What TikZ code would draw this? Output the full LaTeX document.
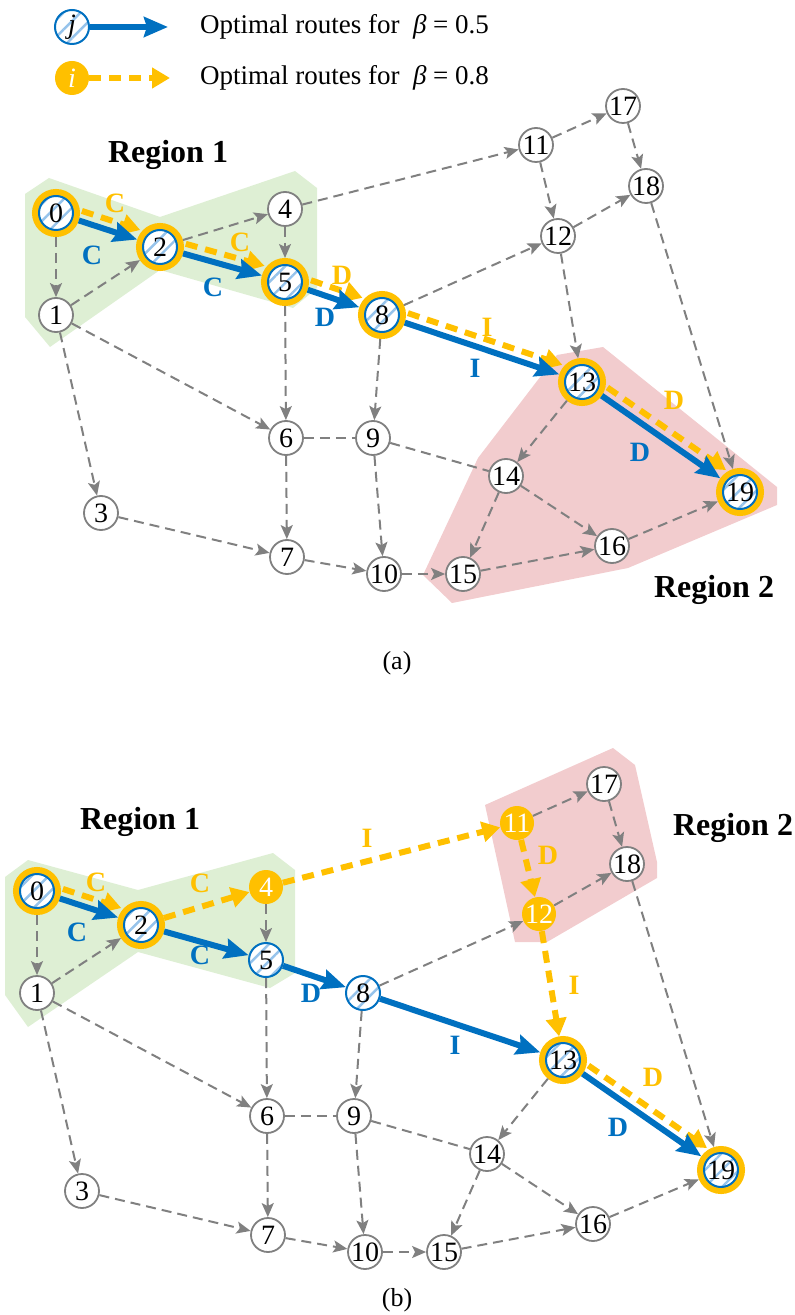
\documentclass[tikz,border=0pt]{standalone}
\usepackage{fontspec}
\setmainfont{Liberation Serif}
\usetikzlibrary{arrows.meta,calc,patterns.meta}

\definecolor{routeblue}{RGB}{0,112,192}
\definecolor{routegold}{RGB}{255,192,0}
\definecolor{hatchblue}{RGB}{150,195,235}
\definecolor{edgegray}{RGB}{128,128,128}
\definecolor{regiongreen}{RGB}{222,239,212}
\definecolor{regionred}{RGB}{242,204,206}

\tikzset{
  plainnode/.style={circle, draw=edgegray, line width=0.9pt, fill=white, minimum size=17pt, inner sep=0pt, font=\fontsize{14}{15}\selectfont},
  hatchnode/.style={circle, draw=routeblue, line width=1pt, preaction={fill=white}, pattern={Lines[angle=45,distance=6pt,line width=1.2pt]}, pattern color=hatchblue, minimum size=17pt, inner sep=0pt, font=\fontsize{14}{15}\selectfont},
  ringnode/.style={preaction={draw=routegold, line width=7pt}, hatchnode, outer sep=3.5pt},
  goldnode/.style={circle, fill=routegold, minimum size=17pt, inner sep=0pt, text=white, font=\fontsize{14}{15}\selectfont},
  grayedge/.style={draw=edgegray, line width=1pt, dash pattern=on 5pt off 3pt, -{Stealth[length=7pt,width=6pt,inset=1.5pt]}},
  grayline/.style={grayedge, -},
  blueroute/.style={draw=routeblue, line width=3pt, -{Stealth[length=12pt,width=10pt,inset=1.5pt]}},
  goldroute/.style={draw=routegold, line width=3pt, dash pattern=on 6pt off 4pt, -{Triangle[length=9pt,width=10pt]}},
  bluelabel/.style={text=routeblue, font=\bfseries\fontsize{14}{15}\selectfont},
  goldlabel/.style={text=routegold, font=\bfseries\fontsize{14}{15}\selectfont},
  regionlabel/.style={font=\bfseries\fontsize{16}{18}\selectfont},
}

\begin{document}
\begin{tikzpicture}[x=0.5pt, y=-0.5pt]
    \useasboundingbox (0,0) rectangle (795,1315);

    % regions
    \fill[regiongreen] (25,194) -- (49,178) -- (160,217) -- (295,171) -- (317,188) -- (317,288) -- (293,308) -- (160,270) -- (50,347) -- (25,317) -- cycle;
    \fill[regionred] (423,575) -- (478,458) -- (557,355) -- (603,347) -- (777,487) -- (777,505) -- (628,568) -- (452,603) -- cycle;
    \fill[regiongreen] (5,877) -- (28,860) -- (138,890) -- (273,853) -- (295,870) -- (295,973) -- (270,988) -- (138,952) -- (28,1027) -- (5,995) -- cycle;
    \fill[regionred] (485,805) -- (613,748) -- (635,765) -- (657,862) -- (657,878) -- (547,942) -- (515,942) -- cycle;

    % legend
    \node[hatchnode, font=\itshape\fontsize{14}{15}\selectfont] (legj) at (72,27) {j};
    \coordinate (legjend) at (168,27);
    \draw[blueroute] (legj) -- (legjend);
    \node[goldnode, font=\itshape\fontsize{14}{15}\selectfont] (legi) at (72,78) {i};
    \coordinate (legiend) at (170,78);
    \draw[goldroute] (legi) -- (legiend);
    \node[anchor=west, font=\fontsize{13.5}{15}\selectfont] (legtxtj) at (193,27) {Optimal routes for\ \ \textit{β} = 0.5};
    \node[anchor=west, font=\fontsize{13.5}{15}\selectfont] (legtxti) at (193,78) {Optimal routes for\ \ \textit{β} = 0.8};

    % (a)
    \foreach \n/\x/\y/\st in {0/56/213/ringnode, 1/56/315/plainnode, 2/160/247/ringnode, 3/101/513/plainnode,
        4/285/209/plainnode, 5/285/282/ringnode, 6/286/438/plainnode, 7/287/557/plainnode, 8/382/315/ringnode,
        9/373/438/plainnode, 10/384/574/plainnode, 11/536/145/plainnode, 12/558/236/plainnode, 13/582/382/ringnode,
        14/506/476/plainnode, 15/463/574/plainnode, 16/612/546/plainnode, 17/623/106/plainnode, 18/646/186/plainnode,
        19/740/492/ringnode}
        \node[\st] (a\n) at (\x,\y) {\n};

    \foreach \src/\dst in {0/1, 1/2, 2/4, 4/5, 1/6, 1/3, 3/7, 5/6, 6/7, 8/9, 8/12, 9/10, 7/10, 10/15, 13/14,
        14/15, 14/16, 15/16, 16/19, 4/11, 11/12, 11/17, 12/18, 17/18, 12/13, 18/19}
        \draw[grayedge] (a\src) -- (a\dst);
    \draw[grayline] (a6) -- (a9);
    \draw[grayline] (a9) -- (a14);

    \foreach \src/\dst in {0/2, 2/5, 5/8, 8/13, 13/19}
        \draw[goldroute] ($(a\src)!12pt!(a\dst)!5pt!90:(a\dst)$) -- ($(a\dst)!12pt!(a\src)!5pt!-90:(a\src)$);
    \foreach \src/\dst in {0/2, 2/5, 5/8, 8/13, 13/19}
        \draw[blueroute] (a\src) -- (a\dst);

    \foreach \x/\y/\txt [count=\k] in {115/203/C, 240/242/C, 342/275/D, 487/327/I, 674/400/D}
        \node[goldlabel] (gla\k) at (\x,\y) {\txt};
    \foreach \x/\y/\txt [count=\k] in {92/255/C, 213/287/C, 325/317/D, 475/368/I, 640/452/D}
        \node[bluelabel] (bla\k) at (\x,\y) {\txt};

    \node[regionlabel] (rega1) at (168,155) {Region 1};
    \node[regionlabel] (rega2) at (714,590) {Region 2};
    \node[font=\fontsize{13}{15}\selectfont] (capa) at (397,663) {(a)};

    % (b)
    \begin{scope}[shift={(-19,678)}]
    \foreach \n/\x/\y/\st in {0/56/213/ringnode, 1/56/315/plainnode, 2/160/247/ringnode, 3/101/513/plainnode,
        4/285/209/goldnode, 5/285/282/hatchnode, 6/286/438/plainnode, 7/287/557/plainnode, 8/382/315/hatchnode,
        9/373/438/plainnode, 10/384/574/plainnode, 11/536/145/goldnode, 12/558/236/goldnode, 13/582/382/ringnode,
        14/506/476/plainnode, 15/463/574/plainnode, 16/612/546/plainnode, 17/623/106/plainnode, 18/646/186/plainnode,
        19/740/492/ringnode}
        \node[\st] (b\n) at (\x,\y) {\n};
    \end{scope}

    \foreach \src/\dst in {0/1, 1/2, 4/5, 1/6, 1/3, 3/7, 5/6, 6/7, 8/9, 8/12, 9/10, 7/10, 10/15, 13/14,
        14/15, 14/16, 15/16, 16/19, 11/17, 12/18, 17/18, 18/19}
        \draw[grayedge] (b\src) -- (b\dst);
    \draw[grayline] (b6) -- (b9);
    \draw[grayline] (b9) -- (b14);

    \foreach \src/\dst in {0/2, 13/19}
        \draw[goldroute] ($(b\src)!12pt!(b\dst)!5pt!90:(b\dst)$) -- ($(b\dst)!12pt!(b\src)!5pt!-90:(b\src)$);
    \foreach \src/\dst in {2/4, 4/11, 11/12, 12/13}
        \draw[goldroute] (b\src) -- (b\dst);
    \foreach \src/\dst in {0/2, 2/5, 5/8, 8/13, 13/19}
        \draw[blueroute] (b\src) -- (b\dst);

    \foreach \x/\y/\txt [count=\k] in {96/882/C, 200/883/C, 367/838/I, 548/855/D, 574/985/I, 653/1077/D}
        \node[goldlabel] (glb\k) at (\x,\y) {\txt};
    \foreach \x/\y/\txt [count=\k] in {77/932/C, 200/955/C, 311/993/D, 455/1045/I, 618/1127/D}
        \node[bluelabel] (blb\k) at (\x,\y) {\txt};

    \node[regionlabel] (regb1) at (140,822) {Region 1};
    \node[regionlabel] (regb2) at (733,828) {Region 2};
    \node[font=\fontsize{13}{15}\selectfont] (capb) at (397,1300) {(b)};
\end{tikzpicture}
\end{document}
